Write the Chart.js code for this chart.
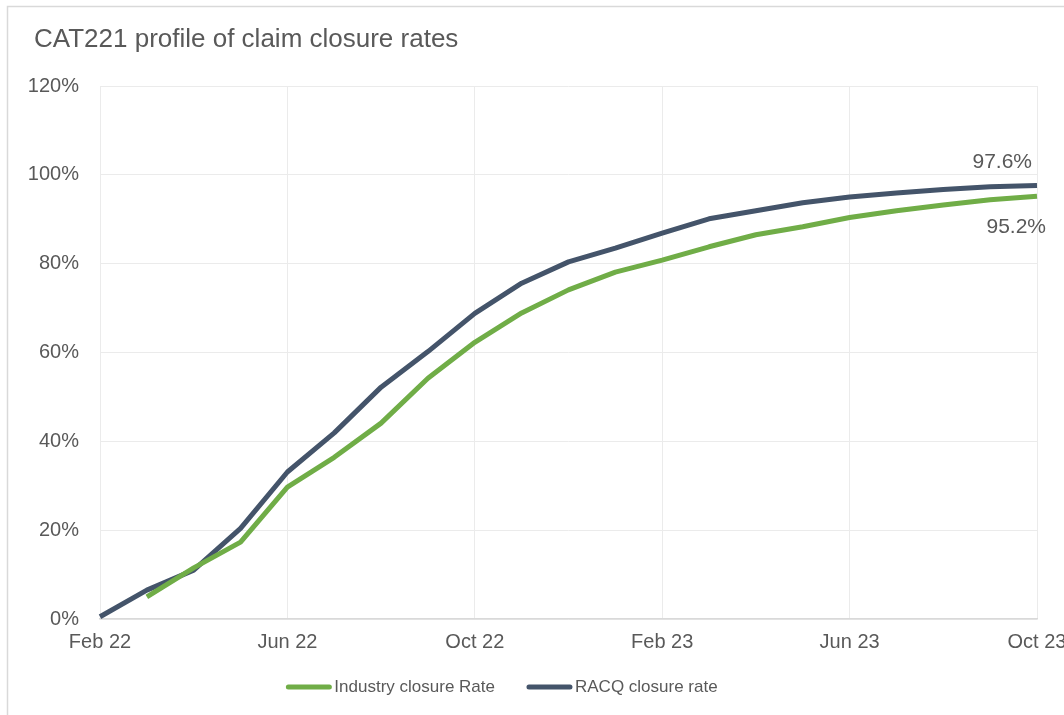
<!DOCTYPE html>
<html>
<head>
<meta charset="utf-8">
<script src="https://cdn.jsdelivr.net/npm/chart.js@4/dist/chart.umd.min.js"></script>
<style>
  html, body { margin: 0; padding: 0; background: #ffffff; }
  #wrap { width: 1064px; height: 715px; }
</style>
</head>
<body>
<div id="wrap"><canvas id="c" width="1064" height="715"></canvas></div>
<script>
const chartTitle = 'CAT221 profile of claim closure rates';
const months = ['Feb 22','Mar 22','Apr 22','May 22','Jun 22','Jul 22','Aug 22','Sep 22','Oct 22','Nov 22','Dec 22',
                'Jan 23','Feb 23','Mar 23','Apr 23','May 23','Jun 23','Jul 23','Aug 23','Sep 23','Oct 23'];
const industryName = 'Industry closure Rate';
const industryRate = [null, 5.0, 11.5, 17.3, 29.7, 36.4, 44.1, 54.2, 62.3, 68.9, 74.1,
                      78.1, 80.8, 83.8, 86.5, 88.3, 90.4, 91.9, 93.2, 94.4, 95.2];
const racqName = 'RACQ closure rate';
const racqRate = [0.5, 6.5, 11.0, 20.4, 33.1, 41.9, 52.2, 60.2, 68.8, 75.6, 80.4,
                  83.5, 86.9, 90.1, 91.9, 93.7, 95.0, 95.9, 96.7, 97.3, 97.6];
const yTicks = [0, 20, 40, 60, 80, 100, 120];

const FONT = "'Liberation Sans', Arial, sans-serif";
const TXT = '#595959';
const GREEN = '#70AD47';
const NAVY = '#44546A';

const frame = {
  id: 'frame',
  beforeDraw(chart) {
    const ctx = chart.ctx;
    ctx.save();
    ctx.fillStyle = '#ffffff';
    ctx.fillRect(0, 0, chart.width, chart.height);
    ctx.strokeStyle = '#d9d9d9';
    ctx.lineWidth = 1.5;
    ctx.strokeRect(7.5, 6.5, chart.width + 50, chart.height + 50);
    ctx.font = '26px ' + FONT;
    ctx.fillStyle = TXT;
    ctx.textAlign = 'left';
    ctx.textBaseline = 'alphabetic';
    ctx.fillText(chartTitle, 34, 47);
    ctx.restore();
  }
};

const endLabels = {
  id: 'endLabels',
  afterDatasetsDraw(chart) {
    const ctx = chart.ctx;
    ctx.save();
    ctx.font = '21px ' + FONT;
    ctx.fillStyle = TXT;
    ctx.textAlign = 'right';
    ctx.textBaseline = 'middle';
    chart.data.datasets.forEach((ds, i) => {
      const meta = chart.getDatasetMeta(i);
      const last = ds.data.length - 1;
      const pt = meta.data[last];
      const txt = ds.data[last].toFixed(1) + '%';
      if (ds.label === racqName) {
        ctx.fillText(txt, pt.x - 5, pt.y - 23);
      } else {
        ctx.fillText(txt, pt.x + 9, pt.y + 31);
      }
    });
    ctx.restore();
  }
};

const customLegend = {
  id: 'customLegend',
  afterDraw(chart) {
    const ctx = chart.ctx;
    ctx.save();
    ctx.font = '17px ' + FONT;
    const lineW = 45, gapText = 3, gapItem = 32;
    const items = chart.data.datasets.map(ds => ({
      label: ds.label, color: ds.borderColor, w: ctx.measureText(ds.label).width
    }));
    let total = 0;
    items.forEach((it, i) => { total += lineW + gapText + it.w + (i ? gapItem : 0); });
    let x = 502 - total / 2;
    const y = 687;
    items.forEach(it => {
      ctx.strokeStyle = it.color;
      ctx.lineWidth = 5;
      ctx.lineCap = 'round';
      ctx.beginPath();
      ctx.moveTo(x + 2, y);
      ctx.lineTo(x + lineW - 2, y);
      ctx.stroke();
      ctx.fillStyle = TXT;
      ctx.textAlign = 'left';
      ctx.textBaseline = 'middle';
      ctx.fillText(it.label, x + lineW + gapText, y);
      x += lineW + gapText + it.w + gapItem;
    });
    ctx.restore();
  }
};

new Chart(document.getElementById('c'), {
  type: 'line',
  data: {
    labels: months,
    datasets: [
      { label: industryName, data: industryRate, borderColor: GREEN, backgroundColor: GREEN,
        borderWidth: 5, pointRadius: 0, tension: 0, borderJoinStyle: 'round', fill: false },
      { label: racqName, data: racqRate, borderColor: NAVY, backgroundColor: NAVY,
        borderWidth: 5, pointRadius: 0, tension: 0, borderJoinStyle: 'round', fill: false }
    ]
  },
  options: {
    responsive: false,
    animation: false,
    devicePixelRatio: 1,
    layout: { padding: { left: 14, right: 27, top: 86, bottom: 50 } },
    plugins: {
      legend: { display: false },
      tooltip: { enabled: false },
      title: { display: false }
    },
    scales: {
      x: {
        type: 'category',
        offset: false,
        grid: {
          drawTicks: false,
          color: (c) => (c.index % 4 === 0 ? '#ebebeb' : 'rgba(0,0,0,0)'),
          lineWidth: 1
        },
        border: { display: true, color: '#d9d9d9', width: 1.5 },
        ticks: {
          autoSkip: false, maxRotation: 0, minRotation: 0, padding: 11,
          color: TXT, font: { family: FONT, size: 20 },
          callback: function (v, i) { return i % 4 === 0 ? months[i] : ''; }
        },
        afterFit: (s) => { s.height = 46; s.paddingLeft = 0; s.paddingRight = 0; s.paddingTop = 0; }
      },
      y: {
        min: 0, max: 120,
        afterBuildTicks: (s) => { s.ticks = yTicks.map(v => ({ value: v })); },
        grid: { drawTicks: false, color: '#ebebeb', lineWidth: 1 },
        border: { display: false },
        ticks: {
          padding: 21, color: TXT, font: { family: FONT, size: 20 },
          callback: (v) => v + '%'
        },
        afterFit: (s) => { s.width = 86; s.paddingTop = 0; s.paddingBottom = 0; }
      }
    }
  },
  plugins: [frame, endLabels, customLegend]
});
</script>
</body>
</html>
